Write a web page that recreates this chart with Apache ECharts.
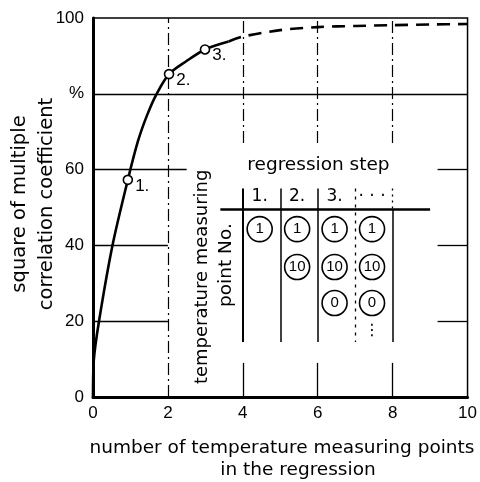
<!DOCTYPE html>
<html>
<head>
<meta charset="utf-8">
<script src="https://cdn.jsdelivr.net/npm/echarts@6/dist/echarts.min.js"></script>
<style>
  html, body { margin: 0; padding: 0; background: #fff; }
  #chart { width: 480px; height: 482px; }
</style>
</head>
<body>
<div id="chart"></div>
<script>
// curve: solid part, then dashed continuation
const solidX = [0, 0.02, 0.16, 0.52, 0.93, 1.2, 1.45, 1.7, 2.03, 2.49, 2.99, 3.62]
const solidY = [0, 9.5, 20, 40, 57.3, 67.5, 74.5, 80, 85.2, 88.6, 91.7, 93.8]
const dashX = [3.62, 4, 5, 6, 7, 8, 9, 10]
const dashY = [93.8, 95.1, 96.8, 97.6, 97.9, 98.1, 98.3, 98.4]

// regression steps marked on the curve
const stepX = [0.93, 2.03, 2.99]
const stepY = [57.3, 85.2, 91.7]
const stepNames = ['1.', '2.', '3.']

// inset table: regression step -> temperature measuring point numbers
const tableHeaders = ['1.', '2.', '3.', '· · ·']
const tablePoints = [[1], [1, 10], [1, 10, 0], [1, 10, 0]]
const tableRowY = [44.3, 34.3, 24.8]
const tableColX = [4.45, 5.45, 6.45, 7.45]

const yTicks = [0, 20, 40, 60, 80, 100]

const FONT = 'DejaVu Sans'
const NUMFONT = 'Liberation Sans'
const chart = echarts.init(document.getElementById('chart'))

const toPairs = (xs, ys) => xs.map((x, i) => [x, ys[i]])

// grid segments / table rules (value coordinates)
const thin = { color: '#000', width: 1.3, type: 'solid', opacity: 1 }
const dashDot = { color: '#000', width: 1.2, type: [12, 4, 2, 4], opacity: 1 }
const segments = [
  // horizontal partial grid lines
  { coords: [[0, 20], [2, 20]], lineStyle: thin },
  { coords: [[0, 40], [2, 40]], lineStyle: thin },
  { coords: [[0, 60], [2.5, 60]], lineStyle: thin },
  { coords: [[0, 80], [10, 80]], lineStyle: thin },
  // short ticks on the right border
  { coords: [[9.2, 20], [10, 20]], lineStyle: thin },
  { coords: [[9.2, 40], [10, 40]], lineStyle: thin },
  { coords: [[9.2, 60], [10, 60]], lineStyle: thin },
  // vertical grid lines
  { coords: [[2, 0], [2, 100]], lineStyle: dashDot },
  { coords: [[4, 67], [4, 100]], lineStyle: dashDot },
  { coords: [[6, 67], [6, 100]], lineStyle: dashDot },
  { coords: [[8, 67], [8, 100]], lineStyle: dashDot },
  { coords: [[4, 0], [4, 9]], lineStyle: thin },
  { coords: [[6, 0], [6, 9]], lineStyle: thin },
  { coords: [[8, 0], [8, 9]], lineStyle: thin },
  // table
  { coords: [[3.4, 49.6], [9.0, 49.6]], lineStyle: { color: '#000', width: 2.5, opacity: 1 } },
  { coords: [[4, 55], [4, 14.5]], lineStyle: { color: '#000', width: 2, opacity: 1 } },
  { coords: [[5, 55], [5, 14.5]], lineStyle: { color: '#000', width: 1.5, opacity: 1 } },
  { coords: [[6, 55], [6, 14.5]], lineStyle: { color: '#000', width: 1.5, opacity: 1 } },
  { coords: [[7, 55], [7, 14.5]], lineStyle: { color: '#000', width: 1.3, type: [3, 5], opacity: 1 } },
  { coords: [[8, 55], [8, 49.6]], lineStyle: { color: '#000', width: 1.3, type: [2, 4], opacity: 1 } },
  { coords: [[8, 49.6], [8, 14.5]], lineStyle: { color: '#000', width: 1.5, opacity: 1 } }
]

const textItems = [
  { value: [6.02, 61.2], text: 'regression step', rotate: 0, size: 18.5 },
  { value: [2.93, 31.7], text: 'temperature measuring', rotate: 90, size: 18 },
  { value: [3.56, 34.8], text: 'point No.', rotate: 90, size: 18.5 },
  { value: [7.45, 17.5], text: '⋮', rotate: 0, size: 16 }
]
tableHeaders.forEach((h, i) => {
  textItems.push({ value: [tableColX[i], 52.8], text: h, rotate: 0, size: 17 })
})

const circles = []
tablePoints.forEach((col, i) => {
  col.forEach((n, j) => circles.push([tableColX[i], tableRowY[j], n]))
})

const option = {
  animation: false,
  textStyle: { fontFamily: FONT, color: '#000' },
  grid: {
    left: 93, right: 5, top: 18, bottom: 85,
    show: true, borderColor: '#000', borderWidth: 1.5
  },
  xAxis: {
    type: 'value', min: 0, max: 10, interval: 2,
    axisLine: { show: true, onZero: false, lineStyle: { color: '#000', width: 3 } },
    axisTick: { show: false },
    splitLine: { show: false },
    axisLabel: { color: '#000', fontSize: 17, fontFamily: NUMFONT, margin: 8 }
  },
  yAxis: {
    type: 'value', min: 0, max: 100, interval: 20,
    axisLine: { show: true, lineStyle: { color: '#000', width: 3 } },
    axisTick: { show: false },
    splitLine: { show: false },
    axisLabel: {
      color: '#000', fontSize: 17, fontFamily: NUMFONT, margin: 9,
      formatter: v => (v === 80 ? '%' : String(v))
    }
  },
  graphic: [
    {
      type: 'text', rotation: Math.PI / 2,
      x: 33, y: 204,
      style: {
        text: 'square of multiple\ncorrelation coefficient',
        font: '19.5px "DejaVu Sans"', fill: '#000', align: 'center', verticalAlign: 'middle',
        lineHeight: 27
      }
    },
    {
      type: 'text', x: 282, y: 448,
      style: {
        text: 'number of temperature measuring points',
        font: '18.5px "DejaVu Sans"', fill: '#000', align: 'center', verticalAlign: 'middle'
      }
    },
    {
      type: 'text', x: 298, y: 470,
      style: {
        text: 'in the regression',
        font: '18.5px "DejaVu Sans"', fill: '#000', align: 'center', verticalAlign: 'middle'
      }
    }
  ],
  series: [
    {
      type: 'lines', coordinateSystem: 'cartesian2d', z: 1,
      data: segments
    },
    {
      type: 'line', data: toPairs(solidX, solidY), smooth: 0.3,
      showSymbol: false, z: 3,
      lineStyle: { color: '#000', width: 2.6 }
    },
    {
      type: 'line', data: toPairs(dashX, dashY), smooth: 0.3,
      showSymbol: false, z: 3,
      lineStyle: { color: '#000', width: 2.6, type: [13, 8] }
    },
    {
      type: 'scatter', z: 4,
      data: stepX.map((x, i) => ({ value: [x, stepY[i]], name: stepNames[i] })),
      symbol: 'circle', symbolSize: 9,
      itemStyle: { color: '#fff', borderColor: '#000', borderWidth: 1.6, opacity: 1 },
      label: {
        show: true, formatter: p => p.name, position: 'right',
        offset: [-3, 6], fontSize: 17, fontFamily: NUMFONT, color: '#000'
      }
    },
    {
      type: 'scatter', z: 4,
      data: circles,
      symbol: 'circle', symbolSize: 25,
      itemStyle: { color: '#fff', borderColor: '#000', borderWidth: 1.6, opacity: 1 },
      label: {
        show: true, position: 'inside', formatter: p => String(p.value[2]),
        fontSize: 15, fontFamily: NUMFONT, color: '#000'
      }
    },
    {
      type: 'scatter', z: 4, symbolSize: 1,
      itemStyle: { color: 'rgba(0,0,0,0)', opacity: 1 },
      data: textItems.map(t => ({
        value: t.value, name: t.text,
        label: { rotate: t.rotate, fontSize: t.size }
      })),
      label: {
        show: true, position: 'inside', formatter: p => p.name,
        fontFamily: FONT, color: '#000'
      }
    }
  ]
}

chart.setOption(option)
window.addEventListener('resize', () => chart.resize())
</script>
</body>
</html>
